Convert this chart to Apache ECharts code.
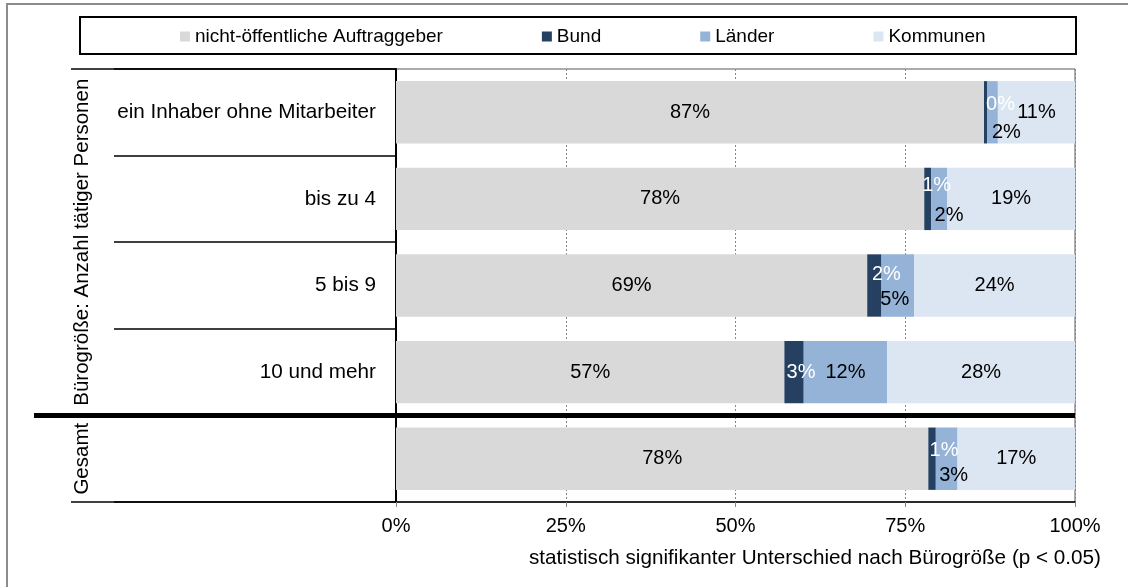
<!DOCTYPE html>
<html>
<head>
<meta charset="utf-8">
<title>Auftraggeber nach Bürogröße</title>
<script src="https://cdn.jsdelivr.net/npm/echarts@6/dist/echarts.min.js"></script>
<style>
    html, body { margin: 0; padding: 0; background: #fff; }
    #main { width: 1128px; height: 587px; }
</style>
</head>
<body>
<div id="main"></div>
<script>
// Kategorien von oben nach unten (letzte Zeile = Gesamt, ohne eigenes Label)
var categories = ['ein Inhaber ohne Mitarbeiter', 'bis zu 4', '5 bis 9', '10 und mehr', ''];
var groupNames = ['Bürogröße: Anzahl tätiger Personen', 'Gesamt'];
var groupRows = [[0, 3], [4, 4]];
var seriesNames = ['nicht-öffentliche Auftraggeber', 'Bund', 'Länder', 'Kommunen'];

// Anteile in %
var nichtOeffentlich = [86.6, 77.8, 69.4, 57.2, 78.4];
var bund = [0.44, 1.0, 2.1, 2.85, 1.1];
var laender = [1.6, 2.36, 4.8, 12.3, 3.2];
var kommunen = [11.36, 18.84, 23.7, 27.65, 17.3];

var xTicks = [0, 25, 50, 75, 100];
var footnote = 'statistisch signifikanter Unterschied nach Bürogröße (p < 0.05)';

// Verschiebung der kleinen Beschriftungen (Layout, keine Daten)
var bundNudge = [[15, -8], [9, -13], [12, -11], [7, 0], [12, -8]];
var laenderNudge = [[14, 20], [10, 17], [-3, 14], [0, 0], [7, 17]];

var colors = ['#D9D9D9', '#254061', '#95B3D7', '#DCE6F2'];
var fontFamily = '"Liberation Sans", Arial, sans-serif';

var chart = echarts.init(document.getElementById('main'));

function pct(p) { return Math.round(p.value) + '%'; }

function withNudge(values, nudge) {
    return values.map(function (v, i) {
        return { value: v, label: { offset: nudge[i] } };
    });
}

function barSeries(name, data, color, labelColor) {
    return {
        name: name,
        type: 'bar',
        stack: 'total',
        barCategoryGap: '28%',
        itemStyle: { color: color },
        label: {
            show: true,
            position: 'inside',
            formatter: pct,
            color: labelColor,
            fontSize: 20,
            fontFamily: fontFamily
        },
        data: data
    };
}

var option = {
    animation: false,
    textStyle: { fontFamily: fontFamily },
    legend: {
        data: seriesNames,
        left: 180,
        top: 27,
        padding: 0,
        itemWidth: 10,
        itemHeight: 10,
        itemGap: 99,
        icon: 'rect',
        selectedMode: false,
        textStyle: { fontSize: 19, color: '#000', fontFamily: fontFamily }
    },
    grid: {
        left: 396,
        right: 53,
        top: 69,
        bottom: 85,
        show: true,
        borderColor: '#595959',
        borderWidth: 1
    },
    xAxis: {
        type: 'value',
        min: xTicks[0],
        max: xTicks[xTicks.length - 1],
        interval: xTicks[1] - xTicks[0],
        axisLine: { show: true, lineStyle: { color: '#000', width: 1.5 } },
        axisTick: { show: true, length: 5, lineStyle: { color: '#868686' } },
        axisLabel: { formatter: '{value}%', fontSize: 20, color: '#000', margin: 14 },
        splitLine: { show: true, lineStyle: { color: '#868686', type: [2, 2], width: 1 } }
    },
    yAxis: {
        type: 'category',
        inverse: true,
        data: categories,
        axisLine: { show: true, lineStyle: { color: '#000', width: 2 } },
        axisTick: { show: true, length: 282, lineStyle: { color: '#000', width: 1.5 } },
        axisLabel: { fontSize: 20.7, color: '#000', margin: 20 }
    },
    series: [
        barSeries(seriesNames[0], nichtOeffentlich, colors[0], '#000'),
        barSeries(seriesNames[1], withNudge(bund, bundNudge), colors[1], '#fff'),
        barSeries(seriesNames[2], withNudge(laender, laenderNudge), colors[2], '#000'),
        barSeries(seriesNames[3], kommunen, colors[3], '#000')
    ]
};
chart.setOption(option);

// Rahmen, Gruppenbeschriftungen und Trennlinien aus den Achsenpositionen
var c0 = chart.convertToPixel({ yAxisIndex: 0 }, 0);
var c1 = chart.convertToPixel({ yAxisIndex: 0 }, 1);
var band = c1 - c0;
var xLeft = chart.convertToPixel({ xAxisIndex: 0 }, xTicks[0]);
var xRight = chart.convertToPixel({ xAxisIndex: 0 }, xTicks[xTicks.length - 1]);
var plotTop = c0 - band / 2;
var plotBottom = chart.convertToPixel({ yAxisIndex: 0 }, categories.length - 1) + band / 2;
var splitY = chart.convertToPixel({ yAxisIndex: 0 }, groupRows[0][1]) + band / 2;

var graphics = [
    { type: 'rect', shape: { x: 7, y: 4, width: 1400, height: 900 },
      style: { fill: 'none', stroke: '#8c8c8c', lineWidth: 2 }, silent: true },
    { type: 'rect', shape: { x: 80, y: 17, width: 996, height: 37 },
      style: { fill: 'none', stroke: '#000', lineWidth: 2 }, silent: true },
    { type: 'line', shape: { x1: 71, y1: plotTop, x2: xLeft, y2: plotTop },
      style: { stroke: '#000', lineWidth: 1.5 } },
    { type: 'line', shape: { x1: 71, y1: plotBottom, x2: xLeft, y2: plotBottom },
      style: { stroke: '#000', lineWidth: 1.5 } },
    { type: 'line', shape: { x1: 34, y1: splitY, x2: xRight, y2: splitY },
      style: { stroke: '#000', lineWidth: 5 }, z: 100 },
    { type: 'text', right: 1128 - 1101, top: 548,
      style: { text: footnote, fontSize: 20.7, fontFamily: fontFamily, fill: '#000' } }
];
groupNames.forEach(function (name, g) {
    var yA = chart.convertToPixel({ yAxisIndex: 0 }, groupRows[g][0]) - band / 2;
    var yB = chart.convertToPixel({ yAxisIndex: 0 }, groupRows[g][1]) + band / 2;
    graphics.push({
        type: 'text',
        x: 82,
        y: (yA + yB) / 2,
        rotation: Math.PI / 2,
        style: { text: name, fontSize: 20.5, fontFamily: fontFamily, fill: '#000',
                 align: 'center', verticalAlign: 'middle' }
    });
});
chart.setOption({ graphic: graphics });
</script>
</body>
</html>
